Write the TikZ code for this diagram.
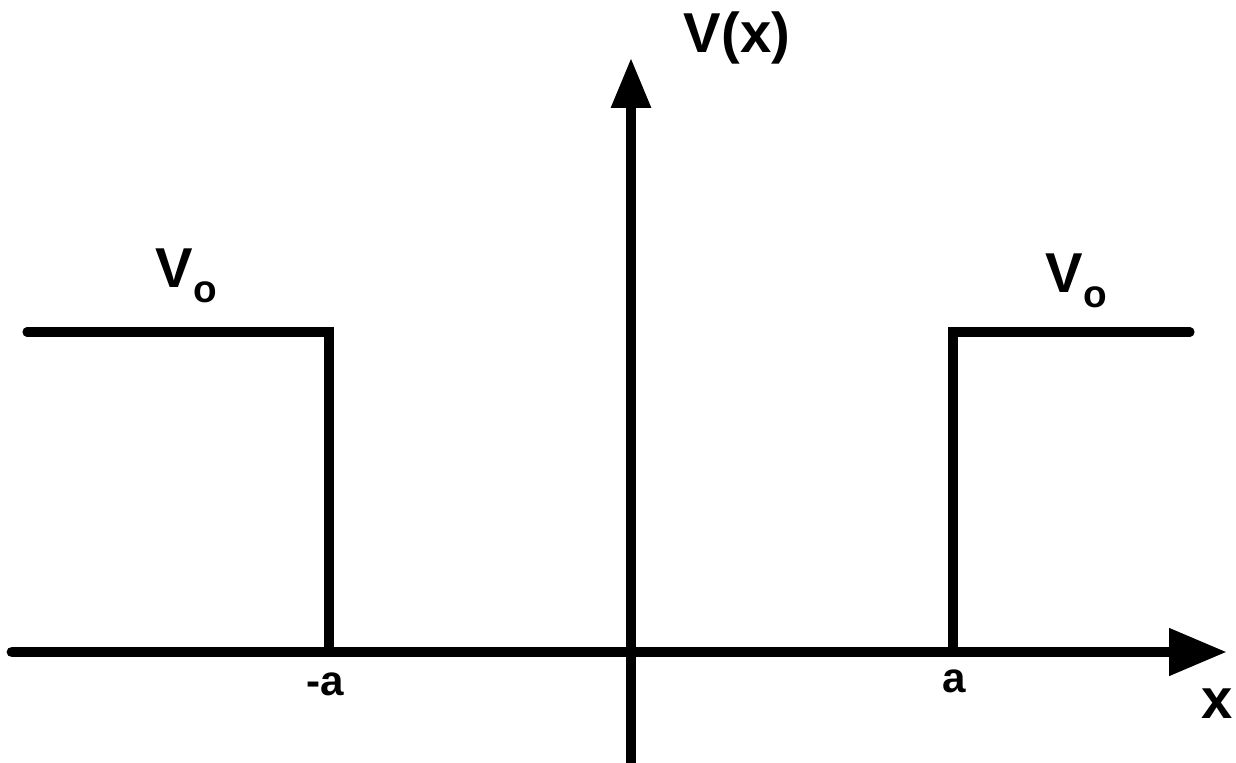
\documentclass[tikz,border=0pt]{standalone}
\usepackage{fontspec}
\setmainfont{Liberation Sans}
\usetikzlibrary{arrows.meta}
\newcommand{\vsub}[1]{\raisebox{-1.5mm}{\fontsize{11}{11}\selectfont #1}}

\begin{document}
\begin{tikzpicture}[axis/.style={line width=3.1pt, line cap=round}, wall/.style={line width=2.6pt, line cap=round, line join=miter}, lbl/.style={inner sep=0pt, font=\bfseries\fontsize{16}{16}\selectfont}, tick/.style={inner sep=0pt, anchor=base, font=\bfseries\fontsize{12}{12}\selectfont}]
\useasboundingbox (-6.31,-1.10) rectangle (6.05,6.52);
\coordinate (xl) at (-6.19,0);
\coordinate (xr) at (5.96,0);
\coordinate (yb) at (0,-1.2);
\coordinate (yt) at (0,5.94);
\coordinate (lo) at (-6.04,3.20);
\coordinate (lc) at (-3.02,3.20);
\coordinate (lb) at (-3.02,0);
\coordinate (rb) at (3.22,0);
\coordinate (rc) at (3.22,3.20);
\coordinate (ro) at (5.59,3.20);
% barriers
\draw[wall] (lo) -- (lc) -- (lb);
\draw[wall] (rb) -- (rc) -- (ro);
% axes
\draw[axis, -{Triangle[length=5.8mm, width=4.5mm]}] (xl) -- (xr);
\draw[wall, line cap=butt, -{Triangle[length=5mm, width=3.8mm]}] (yb) -- (yt);
\node[lbl, anchor=base] (vx) at (1.06,5.99) {V(x)};
\node[lbl, anchor=base west] (vl) at (-4.76,3.64) {V\vsub{o}};
\node[lbl, anchor=base west] (vr) at (4.14,3.59) {V\vsub{o}};
\node[tick] (ma) at (-3.06,-0.43) {-a};
\node[tick] (pa) at (3.23,-0.40) {a};
\node[lbl, anchor=base east] (xlab) at (6.02,-0.66) {x};
\end{tikzpicture}
\end{document}
